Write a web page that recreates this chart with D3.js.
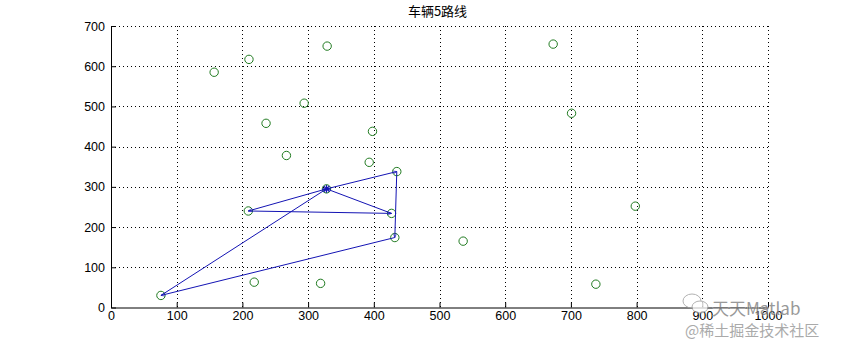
<!DOCTYPE html>
<html>
<head>
<meta charset="utf-8">
<script src="https://cdn.jsdelivr.net/npm/d3@7"></script>
<style>
  body { margin: 0; background: #fff; }
  svg { display: block; }
  .tick text { font-family: "Liberation Sans", Arial, sans-serif; font-size: 12.5px; fill: #000; }
</style>
</head>
<body>
<div id="chart"></div>
<script>
// customer locations (green circles)
const custX = [157, 210, 329, 294, 236, 398, 267, 393, 435, 209, 427, 432, 76, 218, 319, 536, 673, 701, 798, 738, 328];
const custY = [585, 617, 650, 508, 458, 438, 378, 361, 338, 240, 234, 174, 30, 63, 60, 165, 655, 483, 252, 58, 295];

// depot
const depotX = 328;
const depotY = 295;

// vehicle 5 route, in visiting order
const routeX = [328, 209, 427, 328, 435, 432, 76, 328];
const routeY = [295, 240, 234, 295, 338, 174, 30, 295];

const xTicks = [0, 100, 200, 300, 400, 500, 600, 700, 800, 900, 1000];
const yTicks = [0, 100, 200, 300, 400, 500, 600, 700];
const title = "车辆5路线";

const W = 850, H = 346;
const margin = { top: 26, right: 82, bottom: 38.5, left: 111 };
const width = W - margin.left - margin.right;
const height = H - margin.top - margin.bottom;

const svg = d3.select("#chart").append("svg")
  .attr("width", W)
  .attr("height", H);

const g = svg.append("g")
  .attr("transform", `translate(${margin.left},${margin.top})`);

const x = d3.scaleLinear().domain([0, 1000]).range([0, width]);
const y = d3.scaleLinear().domain([0, 700]).range([height, 0]);

// dotted grid
g.append("g")
  .selectAll("line")
  .data(xTicks.filter(d => d > 0))
  .join("line")
  .attr("x1", d => Math.round(x(d)) + 0.5)
  .attr("x2", d => Math.round(x(d)) + 0.5)
  .attr("y1", 0)
  .attr("y2", height)
  .attr("stroke", "#000")
  .attr("stroke-dasharray", "1,3");

g.append("g")
  .selectAll("line")
  .data(yTicks.filter(d => d > 0))
  .join("line")
  .attr("x1", 0)
  .attr("x2", width)
  .attr("y1", d => Math.round(y(d)) + 0.5)
  .attr("y2", d => Math.round(y(d)) + 0.5)
  .attr("stroke", "#000")
  .attr("stroke-dasharray", "1,3");

// axes, ticks pointing inward
g.append("g")
  .attr("transform", `translate(0,${height})`)
  .call(d3.axisBottom(x).tickValues(xTicks).tickFormat(d3.format("d"))
    .tickSize(-5).tickSizeOuter(0).tickPadding(4))
  .call(a => a.select(".domain").attr("stroke", "#000"));

g.append("g")
  .call(d3.axisLeft(y).tickValues(yTicks).tickFormat(d3.format("d"))
    .tickSize(-5).tickSizeOuter(0).tickPadding(6))
  .call(a => a.select(".domain").attr("stroke", "#000"));

// arrow marker
svg.append("defs").append("marker")
  .attr("id", "arr")
  .attr("viewBox", "0 0 10 10")
  .attr("refX", 10)
  .attr("refY", 5)
  .attr("markerUnits", "userSpaceOnUse")
  .attr("markerWidth", 5)
  .attr("markerHeight", 4)
  .attr("orient", "auto")
  .append("path")
  .attr("d", "M0,1L10,5L0,9")
  .attr("fill", "none")
  .attr("stroke", "#1414b4")
  .attr("stroke-width", 1.5);

// customers
g.append("g")
  .selectAll("circle")
  .data(custX.map((d, i) => [d, custY[i]]))
  .join("circle")
  .attr("cx", d => x(d[0]))
  .attr("cy", d => y(d[1]))
  .attr("r", 4.2)
  .attr("fill", "none")
  .attr("stroke", "#1f7a1f")
  .attr("stroke-width", 1);

// route segments
const route = routeX.map((d, i) => [d, routeY[i]]);
g.append("g")
  .selectAll("line")
  .data(d3.pairs(route))
  .join("line")
  .attr("x1", d => x(d[0][0]))
  .attr("y1", d => y(d[0][1]))
  .attr("x2", d => x(d[1][0]))
  .attr("y2", d => y(d[1][1]))
  .attr("stroke", "#1414b4")
  .attr("stroke-width", 1)
  .attr("marker-end", "url(#arr)");

// depot star
const star = g.append("g")
  .attr("transform", `translate(${x(depotX)},${y(depotY)})`)
  .attr("stroke", "#1414b4")
  .attr("stroke-width", 1.2);
[0, 45, 90, 135].forEach(a => {
  star.append("line")
    .attr("x1", -4).attr("x2", 4)
    .attr("transform", `rotate(${a})`);
});

// title
svg.append("text")
  .attr("x", margin.left + width / 2 - 2)
  .attr("y", 16)
  .attr("text-anchor", "middle")
  .attr("font-family", "Noto Sans CJK SC, sans-serif")
  .attr("font-size", 13)
  .text(title);

// watermark
const wm = svg.append("g").attr("opacity", 0.75);
wm.append("ellipse").attr("cx", 692).attr("cy", 301).attr("rx", 9).attr("ry", 7)
  .attr("fill", "#fff").attr("stroke", "#999");
wm.append("ellipse").attr("cx", 700).attr("cy", 307).attr("rx", 8).attr("ry", 6)
  .attr("fill", "#fff").attr("stroke", "#999");
wm.append("text")
  .attr("x", 712).attr("y", 315)
  .attr("font-family", "Noto Sans CJK SC, sans-serif")
  .attr("font-size", 17)
  .attr("fill", "#777")
  .attr("stroke", "#fff").attr("stroke-width", 0.6).attr("paint-order", "stroke")
  .text("天天Matlab");
svg.append("text")
  .attr("x", 685).attr("y", 336)
  .attr("font-family", "Noto Sans CJK SC, sans-serif")
  .attr("font-size", 15)
  .attr("fill", "#aaa")
  .text("@稀土掘金技术社区");
</script>
</body>
</html>
